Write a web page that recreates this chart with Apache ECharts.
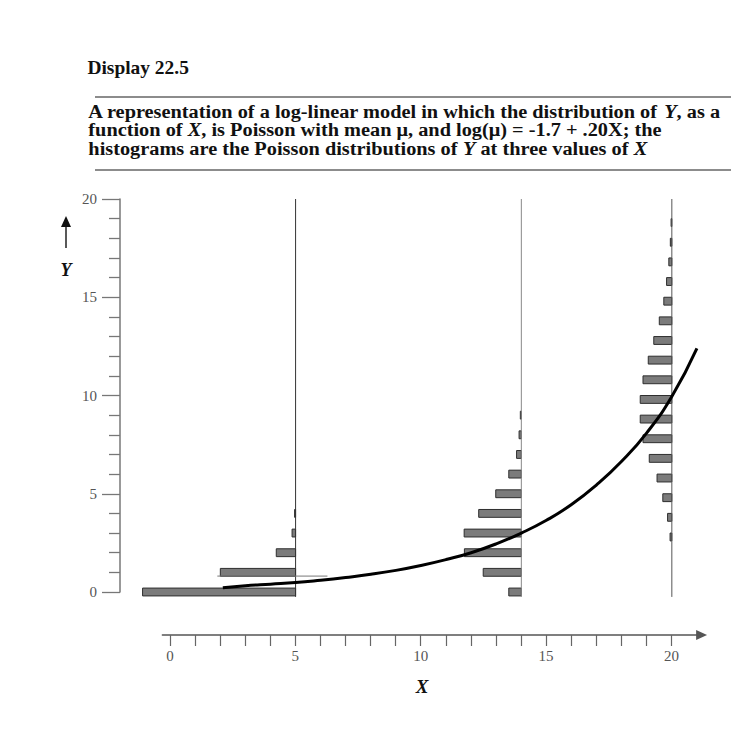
<!DOCTYPE html>
<html><head><meta charset="utf-8">
<script src="https://cdn.jsdelivr.net/npm/echarts@6/dist/echarts.min.js"></script>
<style>html,body{margin:0;padding:0;background:#fff}#c{width:750px;height:741px}</style>
</head><body><div id="c"></div>
<script>
// ---- data ----
const yTickValues = [0, 5, 10, 15, 20];
const xTickLabels = [0, 5, 10, 15, 20];
const xTicks = [0,1,2,3,4,5,6,7,8,9,10,11,12,13,14,15,16,17,18,19,20];

// Poisson histograms (bar lengths = probabilities) at three values of X
const histAtX5 = 5;
const histY5 = [0, 1, 2, 3, 4];
const histP5 = [0.61, 0.30, 0.077, 0.014, 0.004];

const histAtX14 = 14;
const histY14 = [0, 1, 2, 3, 4, 5, 6, 7, 8, 9];
const histP14 = [0.05, 0.152, 0.227, 0.228, 0.17, 0.102, 0.05, 0.019, 0.009, 0.004];

const histAtX20 = 20;
const histY20 = [2.8, 3.8, 4.8, 5.8, 6.8, 7.8, 8.8, 9.8, 10.8, 11.8, 12.8, 13.8, 14.8, 15.8, 16.8, 17.8, 18.8];
const histP20 = [0.007, 0.017, 0.036, 0.059, 0.090, 0.115, 0.126, 0.126, 0.115, 0.094, 0.072, 0.050, 0.032, 0.021, 0.012, 0.006, 0.003];

// mean curve mu(X)
const curveX = [2.1, 3, 4, 5, 6, 7, 8, 9, 10, 11, 12, 13, 14, 15, 16, 17, 18, 19, 20, 21];
const curveY = [0.22, 0.32, 0.40, 0.48, 0.60, 0.74, 0.90, 1.10, 1.35, 1.65, 2.00, 2.45, 3.00, 3.65, 4.45, 5.45, 6.65, 8.10, 9.95, 12.4];

// thin stray line next to the X=5 histogram
const strayX = [1.88, 6.27];
const strayY = [0.81, 0.81];

// vertical guide extents
const guideBottom = -0.25;
const guideTop = 20;

// ---- styling constants ----
const PROB_SCALE = 10;   // X-units per unit of probability
const BAR_H = 0.4;       // bar thickness in Y units
const SERIF = '"Liberation Serif", "DejaVu Serif", serif';
const TITLE_FONT = 'bold 19px ' + SERIF;
const TITLE_IT = 'italic bold 19px ' + SERIF;

function histData(xb, ys, ps) { return ys.map((y, i) => [xb, y, ps[i]]); }
const barData = []
  .concat(histData(histAtX5, histY5, histP5))
  .concat(histData(histAtX14, histY14, histP14))
  .concat(histData(histAtX20, histY20, histP20));

function renderBar(params, api) {
  const xb = api.value(0), y = api.value(1), p = api.value(2);
  const a = api.coord([xb - p * PROB_SCALE, y]);
  const b = api.coord([xb, y]);
  const h = api.size([0, BAR_H])[1];
  return {
    type: 'rect',
    shape: { x: a[0], y: a[1] - h / 2, width: b[0] - a[0], height: h },
    style: { fill: '#7b7b7b', stroke: '#2e2e2e', lineWidth: 1 }
  };
}

function vline(x, color) {
  return {
    type: 'line', xAxisIndex: 0, yAxisIndex: 0, clip: false, silent: true, z: 3,
    symbol: 'none', data: [[x, guideBottom], [x, guideTop]],
    lineStyle: { color: color, width: 1 }
  };
}

function titleLine(text, y) {
  return { type: 'text', x: 95, y: y, scaleX: 1.07, originX: 95, originY: y,
    style: { text: text, font: TITLE_FONT, fill: '#111', verticalAlign: 'middle',
      rich: { i: { font: TITLE_IT, fill: '#111' } } } };
}

const chart = echarts.init(document.getElementById('c'), null, { renderer: 'svg' });
chart.setOption({
  animation: false,
  backgroundColor: '#fff',
  grid: [
    { left: 120, width: 602, top: 199, height: 393 },
    { left: 162.4, width: 539.2, top: 600, height: 35 }
  ],
  xAxis: [
    { gridIndex: 0, type: 'value', min: -2, max: 22, show: false },
    {
      gridIndex: 1, type: 'value', min: -0.3, max: 21.2, position: 'bottom',
      axisLine: { show: true, onZero: false, symbol: ['none', 'triangle'], symbolSize: [10, 11], lineStyle: { color: '#555', width: 1.5 } },
      axisTick: { show: true, customValues: xTicks, length: 11, lineStyle: { color: '#666', width: 1.2 } },
      axisLabel: { customValues: xTickLabels, margin: 13, fontFamily: SERIF, fontSize: 15, color: '#555' },
      splitLine: { show: false }
    }
  ],
  yAxis: [
    {
      gridIndex: 0, type: 'value', min: 0, max: 20, interval: 5, position: 'left',
      axisLine: { show: true, onZero: false, lineStyle: { color: '#777', width: 1.5 } },
      axisTick: { show: true, length: 18, lineStyle: { color: '#777', width: 1.3 } },
      minorTick: { show: true, splitNumber: 5, length: 11, lineStyle: { color: '#777', width: 1.3 } },
      splitLine: { show: false }, minorSplitLine: { show: false },
      axisLabel: { margin: 23, fontFamily: SERIF, fontSize: 15, color: '#555' }
    },
    { gridIndex: 1, type: 'value', show: false }
  ],
  series: [
    {
      type: 'custom', xAxisIndex: 0, yAxisIndex: 0, renderItem: renderBar, z: 2, clip: false,
      encode: { x: 0, y: 1 }, data: barData, silent: true
    },
    vline(histAtX5, '#333'),
    vline(histAtX14, '#888'),
    vline(histAtX20, '#555'),
    {
      type: 'line', xAxisIndex: 0, yAxisIndex: 0, symbol: 'none', z: 3, clip: false,
      data: strayX.map((x, i) => [x, strayY[i]]), lineStyle: { color: '#777', width: 1 }
    },
    {
      type: 'line', xAxisIndex: 0, yAxisIndex: 0, symbol: 'none', smooth: true, z: 4, clip: false,
      data: curveX.map((x, i) => [x, curveY[i]]), lineStyle: { color: '#000', width: 3 }
    }
  ],
  graphic: [
    { type: 'text', x: 95, y: 68, scaleX: 1.08, originX: 95, originY: 68,
      style: { text: 'Display 22.5', font: 'bold 18px ' + SERIF, fill: '#111', verticalAlign: 'middle' } },
    { type: 'line', shape: { x1: 95, y1: 97, x2: 731, y2: 97 }, style: { stroke: '#666', lineWidth: 1.5 } },
    titleLine('A representation of a log-linear model in which the distribution of {i|Y}, as a', 111),
    titleLine('function of {i|X}, is Poisson with mean \u03BC, and log(\u03BC) = -1.7 + .20X; the', 129.5),
    titleLine('histograms are the Poisson distributions of {i|Y} at three values of {i|X}', 148),
    { type: 'line', shape: { x1: 95, y1: 170, x2: 731, y2: 170 }, style: { stroke: '#666', lineWidth: 1.5 } },
    { type: 'line', shape: { x1: 66, y1: 248, x2: 66, y2: 225 }, style: { stroke: '#222', lineWidth: 1.5 } },
    { type: 'polygon', shape: { points: [[66, 216], [61, 227], [71, 227]] }, style: { fill: '#111' } },
    { type: 'text', x: 66, y: 270, style: { text: 'Y', font: 'italic bold 18px ' + SERIF, fill: '#111', align: 'center', verticalAlign: 'middle' } },
    { type: 'text', x: 422, y: 686, style: { text: 'X', font: 'italic bold 19px ' + SERIF, fill: '#111', align: 'center', verticalAlign: 'middle' } }
  ]
});
</script>
</body></html>
